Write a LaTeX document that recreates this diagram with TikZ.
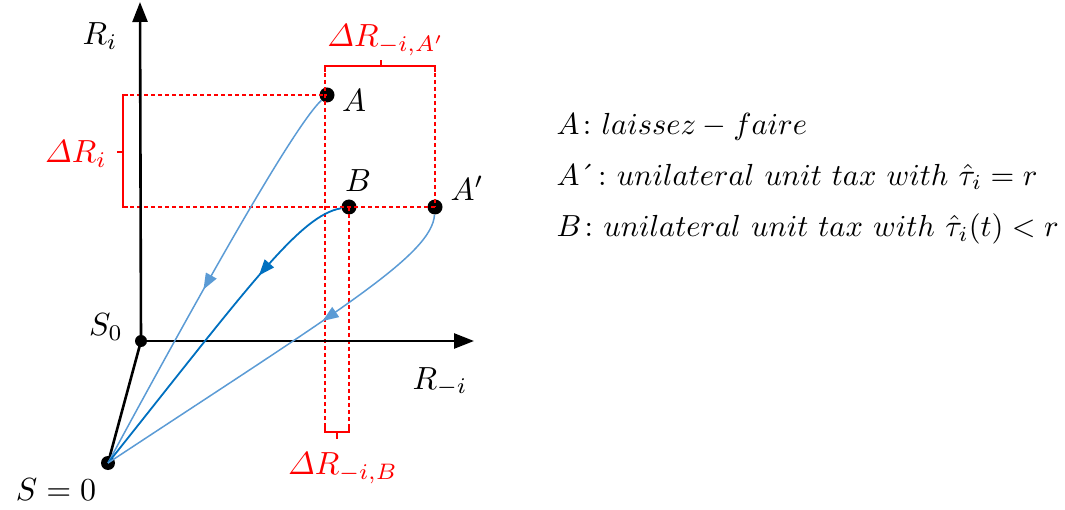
\documentclass[tikz,border=0pt]{standalone}
\usepackage{amsmath}
\usepackage{fontspec}
\usetikzlibrary{arrows.meta,decorations.markings}
\definecolor{lblue}{HTML}{5B9BD5}
\definecolor{dblue}{HTML}{0070C0}
\definecolor{myred}{HTML}{FF0000}
\tikzset{
  dot/.style={circle,fill=black,inner sep=0pt,minimum size=#1},
  axis/.style={line width=2.6pt,-{Triangle[length=20pt,width=15pt]}},
  rdash/.style={draw=myred,line width=1.2pt,dash pattern=on 4pt off 3pt},
  brk/.style={draw=myred,line width=1.5pt},
  flow/.style={line width=#1,postaction={decorate}},
  midarrow/.style={decoration={markings,mark=at position #1 with {\arrow{Triangle[length=16pt,width=12pt]}}}},
  lbl/.style={inner sep=0pt,scale=3.2},
  leg/.style={inner sep=0pt,scale=3.05,anchor=west},
}
\begin{document}
\begin{tikzpicture}[x=1pt,y=-1pt]
\useasboundingbox (0,0) rectangle (1065,510);
% points
\node[dot=12pt] (S0) at (141,341) {};
\node[dot=14pt] (S) at (108,463) {};
\node[dot=15pt] (A) at (327,95) {};
\node[dot=15pt] (B) at (349,207) {};
\node[dot=15pt] (Ap) at (435,207) {};
\coordinate (yt) at (140,2);
\coordinate (xt) at (474,341);
% red dashed guides
\coordinate (la) at (123,95);
\coordinate (lb) at (123,207);
\coordinate (ta) at (325,66);
\coordinate (tb) at (435,66);
\coordinate (ba) at (325,432);
\coordinate (bb) at (349,432);
\draw[rdash] (la) -- (A.center);
\draw[rdash] (lb) -- (Ap.center);
\draw[rdash] (ta) -- (ba);
\draw[rdash] (tb) -- (Ap.center);
\draw[rdash] (B.center) -- (bb);
% brackets
\draw[brk] (128,95) -- (la) -- (lb) -- (128,207);
\draw[brk] (123,152) -- (117,152);
\draw[brk] (325,72) -- (ta) -- (tb) -- (435,72);
\draw[brk] (381,66) -- (381,60);
\draw[brk] (325,425) -- (ba) -- (bb) -- (349,425);
\draw[brk] (337,432) -- (337,439);
% axes
\draw[line width=2.6pt] (S0.center) -- (S.center);
\draw[axis] (S0.center) -- (yt);
\draw[axis] (S0.center) -- (xt);
% flows
\draw[lblue,flow=1.5pt,midarrow=0.53] (A) .. controls (290,130) and (180,330) .. (S.center);
\draw[dblue,flow=1.8pt,midarrow=0.31] (B) .. controls (300,215) and (250,285) .. (S.center);
\draw[lblue,flow=1.5pt,midarrow=0.38] (Ap) .. controls (432,255) and (340,310) .. (S.center);
% labels
\node[lbl] (lRi) at (100,36) {$R_i$};
\node[lbl] (lRmi) at (440,382) {$R_{-i}$};
\node[lbl] (lS0) at (106,327) {$S_0$};
\node[lbl] (lS) at (56,490) {$S=0$};
\node[lbl] (lA) at (354,101) {$A$};
\node[lbl] (lB) at (358,181) {$B$};
\node[lbl] (lAp) at (467,188) {$A'$};
\node[lbl,text=myred] (dA) at (386,40) {$\varDelta R_{-i,A'}$};
\node[lbl,text=myred] (dRi) at (76,154) {$\varDelta R_i$};
\node[lbl,text=myred] (dB) at (343,468) {$\varDelta R_{-i,B}$};
% legend
\node[leg] (g1) at (556,127) {$A\colon laissez-faire$};
\node[leg] (g2) at (556,177) {$A$\'{}$\colon unilateral\ unit\ tax\ with\ \hat{\tau}_i=r$};
\node[leg] (g3) at (556,229) {$B\colon unilateral\ unit\ tax\ with\ \hat{\tau}_i(t)<r$};
\end{tikzpicture}
\end{document}
